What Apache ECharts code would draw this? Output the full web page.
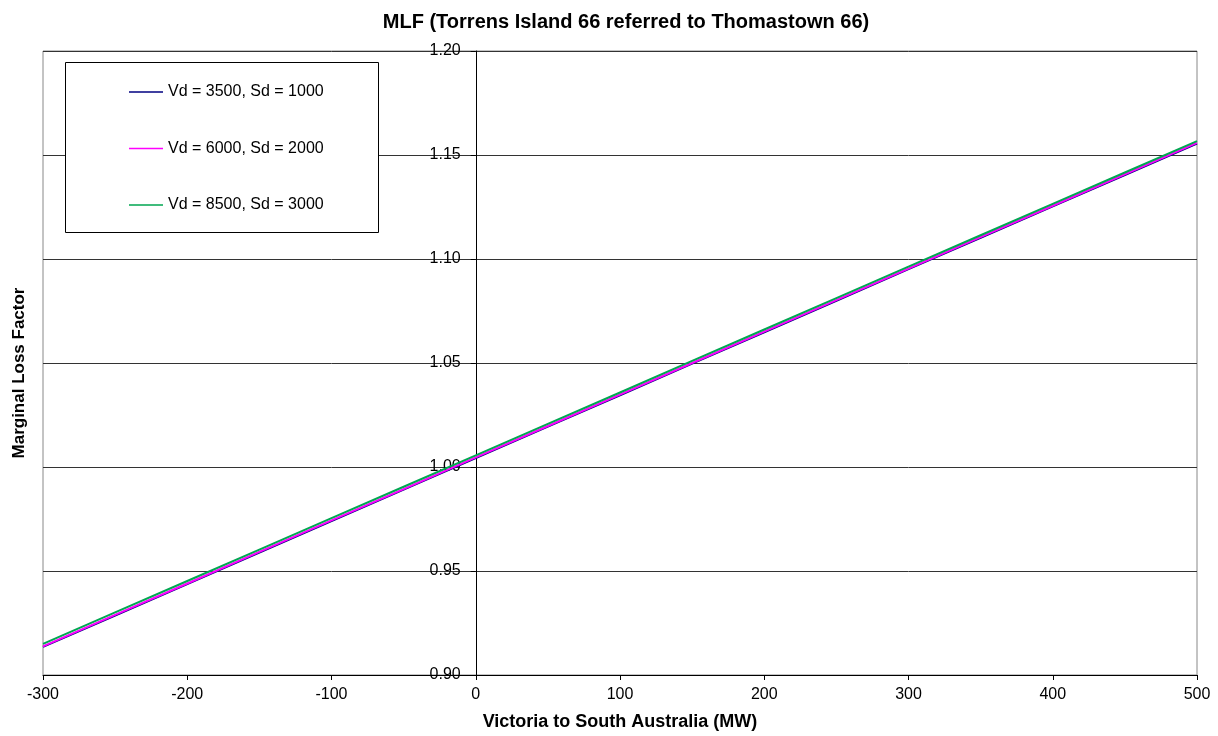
<!DOCTYPE html>
<html>
<head>
<meta charset="utf-8">
<script src="https://cdn.jsdelivr.net/npm/echarts@6/dist/echarts.min.js"></script>
<style>html,body{margin:0;padding:0;background:#fff;}#chart{width:1218px;height:736px;}</style>
</head>
<body>
<div id="chart"></div>
<script>
const flows = [-300, -250, -200, -150, -100, -50, 0, 50, 100, 150, 200, 250, 300, 350, 400, 450, 500];
const seriesNames = ['Vd = 3500, Sd = 1000', 'Vd = 6000, Sd = 2000', 'Vd = 8500, Sd = 3000'];
const mlfA = [0.9135, 0.9286, 0.9437, 0.9589, 0.9740, 0.9891, 1.0043, 1.0194, 1.0345, 1.0497, 1.0648, 1.0799, 1.0951, 1.1102, 1.1253, 1.1404, 1.1555];
const mlfB = [0.9138, 0.9289, 0.9440, 0.9592, 0.9743, 0.9894, 1.0046, 1.0197, 1.0348, 1.0500, 1.0651, 1.0802, 1.0954, 1.1105, 1.1256, 1.1407, 1.1558];
const mlfC = [0.9150, 0.9301, 0.9452, 0.9603, 0.9754, 0.9905, 1.0056, 1.0207, 1.0358, 1.0510, 1.0661, 1.0812, 1.0963, 1.1114, 1.1265, 1.1416, 1.1567];
const colors = ['#000080', '#FF00FF', '#00A651'];
const font = 'Arial, "Liberation Sans", sans-serif';

const chart = echarts.init(document.getElementById('chart'), null, {renderer: 'canvas'});
const mk = (arr) => flows.map((f, i) => [f, arr[i]]);
const dataSets = [mlfA, mlfB, mlfC];
const gridLeft = 43, gridRight = 21;
const plotW = 1218 - gridLeft - gridRight;
const zeroOffset = plotW * 300 / 800;
chart.setOption({
  animation: false,
  backgroundColor: '#fff',
  title: {
    text: 'MLF (Torrens Island 66 referred to Thomastown 66)',
    left: 621, textAlign: 'center', top: 7,
    textStyle: {fontFamily: font, fontSize: 20, fontWeight: 'bold', color: '#000'}
  },
  grid: {left: gridLeft, right: gridRight, top: 51, bottom: 58, show: true, borderColor: '#888', borderWidth: 1, backgroundColor: 'transparent'},
  legend: {
    orient: 'vertical', left: 124, top: 78, itemGap: 38.5, itemWidth: 34, itemHeight: 14,
    icon: 'path://M0,0 L34,0 L34,1.5 L0,1.5 Z',
    data: seriesNames,
    textStyle: {fontFamily: font, fontSize: 16, lineHeight: 18, color: '#000'},
    z: 10
  },
  graphic: [
    {type: 'rect', z: 5, shape: {x: 65.5, y: 62.5, width: 313, height: 170}, style: {fill: '#fff', stroke: '#000', lineWidth: 1}},
    {type: 'text', z: 5, x: 19, y: 373, rotation: Math.PI / 2,
     style: {text: 'Marginal Loss Factor', font: 'bold 17px ' + font, fill: '#000', textAlign: 'center', textVerticalAlign: 'middle'}}
  ],
  xAxis: {
    type: 'value', min: -300, max: 500, interval: 100,
    name: 'Victoria to South Australia (MW)', nameLocation: 'middle', nameGap: 38,
    nameTextStyle: {fontFamily: font, fontSize: 18, fontWeight: 'bold', color: '#000'},
    axisLine: {show: true, onZero: false, lineStyle: {color: '#000', width: 1}},
    axisTick: {show: true, length: 5, lineStyle: {color: '#000'}},
    axisLabel: {fontFamily: font, fontSize: 16, color: '#000', margin: 12},
    splitLine: {show: false}
  },
  yAxis: {
    type: 'value', min: 0.9, max: 1.2, interval: 0.05, position: 'left', offset: -zeroOffset,
    axisLine: {show: true, onZero: false, lineStyle: {color: '#000', width: 1}},
    axisTick: {show: true, length: 5, lineStyle: {color: '#000'}},
    axisLabel: {fontFamily: font, fontSize: 16, color: '#000', margin: 15, formatter: v => v.toFixed(2)},
    splitLine: {show: true, lineStyle: {color: '#333', width: 1}}
  },
  series: seriesNames.map((n, i) => ({
    name: n, type: 'line', data: mk(dataSets[i]), symbol: 'none', showSymbol: false,
    lineStyle: {color: colors[i], width: 2}, itemStyle: {color: colors[i]}, z: 2 + i
  }))
});
</script>
</body>
</html>
